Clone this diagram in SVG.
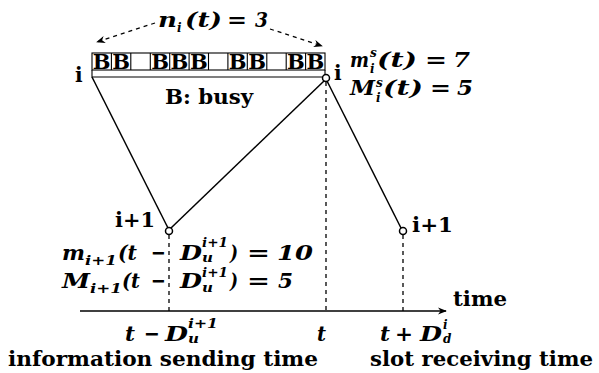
<svg xmlns="http://www.w3.org/2000/svg" width="599" height="373" viewBox="0 0 599 373">
<style>
.t{font-family:"DejaVu Serif","Liberation Serif",serif;font-weight:bold;font-size:20px;fill:#000}
.m{font-family:"DejaVu Serif","Liberation Serif",serif;font-weight:bold;font-style:italic;font-size:21px;fill:#000}
.o{font-family:"DejaVu Serif","Liberation Serif",serif;font-weight:bold;font-size:21px;fill:#000}
.s{font-size:12px}
.b{font-family:"DejaVu Serif","Liberation Serif",serif;font-weight:bold;font-size:21px;text-anchor:middle}
.ln{stroke:#000;stroke-width:1.5;fill:none}
.cell{stroke:#000;stroke-width:1.1;fill:none}
.dash{stroke:#000;stroke-width:1.3;stroke-dasharray:4 4;fill:none}
.node{fill:#fff;stroke:#000;stroke-width:1.5}
</style>
<defs>
<marker id="ah" viewBox="0 0 10 10" refX="9" refY="5" markerWidth="9" markerHeight="9" markerUnits="userSpaceOnUse" orient="auto">
<path d="M0,1 L10,5 L0,9 L3,5 Z" fill="#000"/>
</marker>
</defs>

<g id="slot-bar">
<rect class="cell" x="92" y="53" width="233" height="17"/>
<path class="cell" d="M111.4,53V70M130.8,53V70M150.3,53V70M169.7,53V70M189.1,53V70M208.5,53V70M227.9,53V70M247.3,53V70M266.8,53V70M286.2,53V70M305.6,53V70"/>
<path class="cell" d="M92,70V77H325V70"/>
<text class="b" y="68.5"><tspan x="101.7">B</tspan><tspan x="121.1">B</tspan><tspan x="160">B</tspan><tspan x="179.4">B</tspan><tspan x="198.8">B</tspan><tspan x="237.6">B</tspan><tspan x="257">B</tspan><tspan x="295.9">B</tspan><tspan x="315.3">B</tspan></text>
<text class="t" x="165" y="104" font-size="19" textLength="88" lengthAdjust="spacingAndGlyphs">B: busy</text>
</g>

<g id="count-label">
<path class="dash" d="M155,23 L97,42" marker-end="url(#ah)"/>
<path class="dash" d="M270,29 L322,46" marker-end="url(#ah)"/>
<text class="m" x="158" y="27" textLength="19" lengthAdjust="spacingAndGlyphs">n</text>
<text class="m s" x="177" y="32">i</text>
<text class="m" x="185" y="27" textLength="37" lengthAdjust="spacingAndGlyphs">(t)</text>
<text class="o" x="227" y="27" textLength="20" lengthAdjust="spacingAndGlyphs">=</text>
<text class="m" x="255" y="27" textLength="13" lengthAdjust="spacingAndGlyphs">3</text>
</g>

<g id="connectors">
<line class="ln" x1="92" y1="77" x2="168" y2="228"/>
<line class="ln" x1="171" y1="228" x2="324" y2="81"/>
<line class="ln" x1="327" y1="81" x2="401" y2="228"/>
<line class="dash" x1="169" y1="235" x2="169" y2="311"/>
<line class="dash" x1="326" y1="82" x2="326" y2="311"/>
<line class="dash" x1="403" y1="235" x2="403" y2="311"/>
<line class="ln" x1="80" y1="311" x2="446" y2="311" stroke-width="1.3" marker-end="url(#ah)"/>
</g>

<g id="node-i-left">
<text class="t" x="75" y="82" font-size="18">i</text>
</g>

<g id="node-i-right">
<circle class="node" cx="326" cy="78" r="3.5"/>
<text class="t" x="334" y="80" font-size="18">i</text>
<text class="m" x="350" y="67" textLength="19" lengthAdjust="spacingAndGlyphs">m</text>
<text class="m s" x="370" y="57">s</text>
<text class="m s" x="370" y="73">i</text>
<text class="m" x="377" y="67" textLength="40" lengthAdjust="spacingAndGlyphs">(t)</text>
<text class="o" x="425" y="67" textLength="22" lengthAdjust="spacingAndGlyphs">=</text>
<text class="m" x="453" y="67" textLength="17" lengthAdjust="spacingAndGlyphs">7</text>
<text class="m" x="350" y="95" textLength="25" lengthAdjust="spacingAndGlyphs">M</text>
<text class="m s" x="376" y="87">s</text>
<text class="m s" x="376" y="102">i</text>
<text class="m" x="383" y="95" textLength="40" lengthAdjust="spacingAndGlyphs">(t)</text>
<text class="o" x="430" y="95" textLength="21" lengthAdjust="spacingAndGlyphs">=</text>
<text class="m" x="457" y="95" textLength="16" lengthAdjust="spacingAndGlyphs">5</text>
</g>

<g id="node-i1-left">
<circle class="node" cx="169" cy="231" r="3.5"/>
<text class="t" x="115" y="227" textLength="40" lengthAdjust="spacingAndGlyphs">i+1</text>
<text class="m" x="62" y="260" textLength="23" lengthAdjust="spacingAndGlyphs">m</text>
<text class="m s" x="85" y="265" textLength="32" lengthAdjust="spacingAndGlyphs">i+1</text>
<text class="m" x="118" y="260" textLength="19" lengthAdjust="spacingAndGlyphs">(t</text>
<text class="o" x="151" y="260" textLength="15" lengthAdjust="spacingAndGlyphs">−</text>
<text class="m" x="180" y="260" textLength="22" lengthAdjust="spacingAndGlyphs">D</text>
<text class="m s" x="202" y="247" textLength="26" lengthAdjust="spacingAndGlyphs">i+1</text>
<text class="m s" x="202" y="262" textLength="11" lengthAdjust="spacingAndGlyphs">u</text>
<text class="m" x="230" y="260" textLength="8" lengthAdjust="spacingAndGlyphs">)</text>
<text class="o" x="247" y="260" textLength="23" lengthAdjust="spacingAndGlyphs">=</text>
<text class="m" x="277" y="260" textLength="36" lengthAdjust="spacingAndGlyphs">10</text>
<text class="m" x="62" y="288" textLength="28" lengthAdjust="spacingAndGlyphs">M</text>
<text class="m s" x="90" y="293" textLength="32" lengthAdjust="spacingAndGlyphs">i+1</text>
<text class="m" x="122" y="288" textLength="18" lengthAdjust="spacingAndGlyphs">(t</text>
<text class="o" x="151" y="288" textLength="15" lengthAdjust="spacingAndGlyphs">−</text>
<text class="m" x="180" y="288" textLength="22" lengthAdjust="spacingAndGlyphs">D</text>
<text class="m s" x="202" y="277" textLength="26" lengthAdjust="spacingAndGlyphs">i+1</text>
<text class="m s" x="202" y="292" textLength="11" lengthAdjust="spacingAndGlyphs">u</text>
<text class="m" x="230" y="288" textLength="8" lengthAdjust="spacingAndGlyphs">)</text>
<text class="o" x="247" y="288" textLength="23" lengthAdjust="spacingAndGlyphs">=</text>
<text class="m" x="278" y="288" textLength="15" lengthAdjust="spacingAndGlyphs">5</text>
</g>

<g id="node-i1-right">
<circle class="node" cx="403" cy="231" r="3.5"/>
<text class="t" x="412" y="232" textLength="41" lengthAdjust="spacingAndGlyphs">i+1</text>
</g>

<g id="axis-labels">
<text class="t" x="453" y="306" textLength="54" lengthAdjust="spacingAndGlyphs">time</text>
<text class="m" x="125" y="341" textLength="10" lengthAdjust="spacingAndGlyphs">t</text>
<text class="o" x="144" y="341" textLength="16" lengthAdjust="spacingAndGlyphs">−</text>
<text class="m" x="165" y="341" textLength="23" lengthAdjust="spacingAndGlyphs">D</text>
<text class="m s" x="188" y="328" textLength="30" lengthAdjust="spacingAndGlyphs">i+1</text>
<text class="m s" x="188" y="343" textLength="11" lengthAdjust="spacingAndGlyphs">u</text>
<text class="m" x="317" y="341" textLength="9" lengthAdjust="spacingAndGlyphs">t</text>
<text class="m" x="380" y="341" textLength="10" lengthAdjust="spacingAndGlyphs">t</text>
<text class="o" x="395" y="341" textLength="18" lengthAdjust="spacingAndGlyphs">+</text>
<text class="m" x="420" y="341" textLength="22" lengthAdjust="spacingAndGlyphs">D</text>
<text class="m s" x="443" y="329">i</text>
<text class="m s" x="443" y="343">d</text>
<text class="t" x="8" y="366" textLength="310" lengthAdjust="spacingAndGlyphs">information sending time</text>
<text class="t" x="370" y="366" textLength="223" lengthAdjust="spacingAndGlyphs">slot receiving time</text>
</g>
</svg>
